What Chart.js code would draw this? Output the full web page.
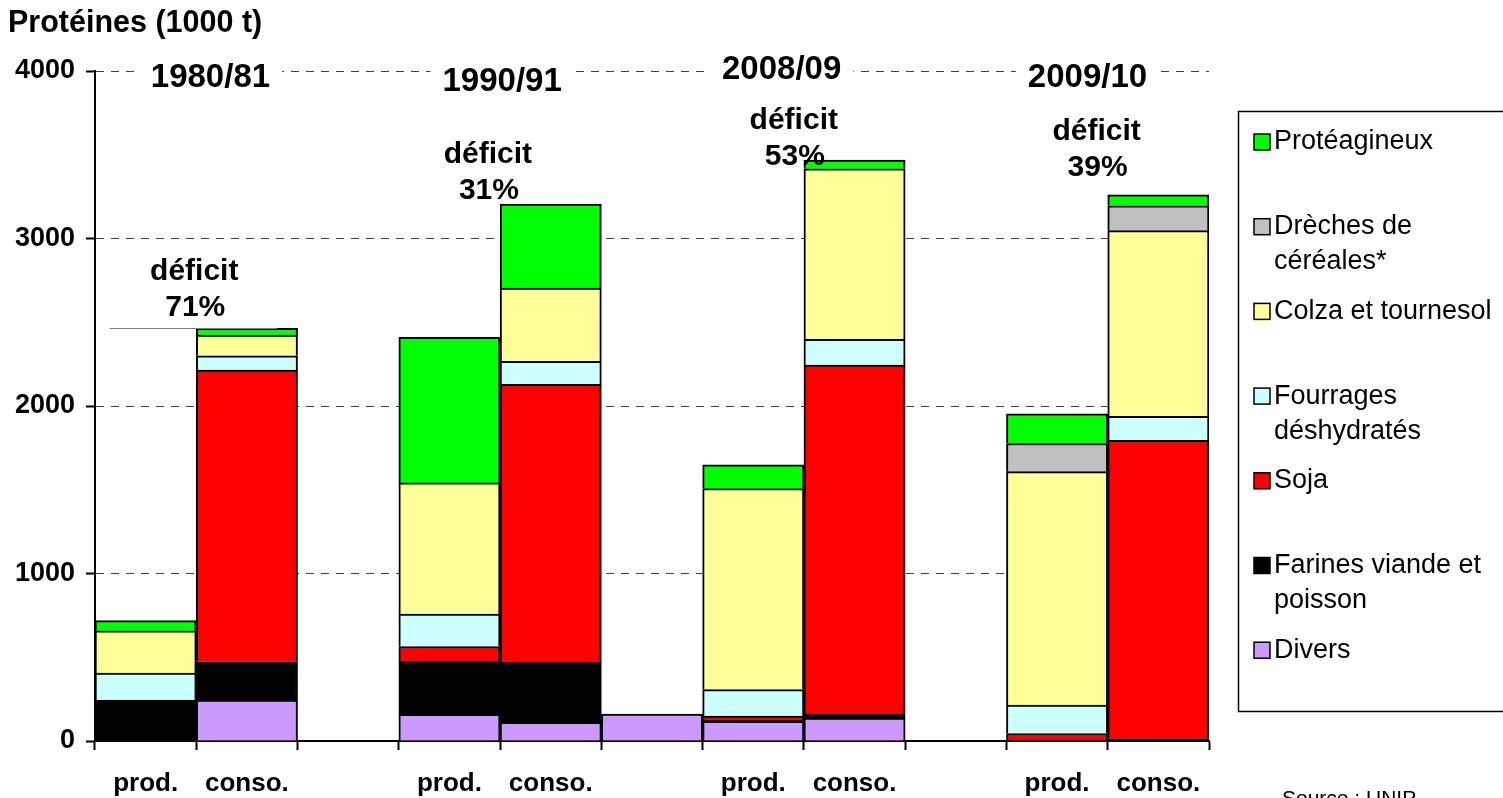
<!DOCTYPE html>
<html lang="fr">
<head>
<meta charset="utf-8">
<title>Protéines (1000 t)</title>
<script src="https://cdn.jsdelivr.net/npm/chart.js@4"></script>
<style>
  html, body { margin: 0; padding: 0; background: #fff; }
  #wrap { width: 1503px; height: 798px; }
</style>
</head>
<body>
<div id="wrap"><canvas id="chart" width="1503" height="798"></canvas></div>
<script>
// categories: prod./conso. per campaign, with an empty slot between campaigns
const categories = ['prod.', 'conso.', '', 'prod.', 'conso.', '', 'prod.', 'conso.', '', 'prod.', 'conso.'];
const periods = ['1980/81', '1990/91', '2008/09', '2009/10'];
const deficits = ['71%', '31%', '53%', '39%'];

// protein volumes, 1000 t
const divers       = [0, 245, null, 159, 111, 161, 118, 137, null, 0, 0];
const farines      = [245, 228, null, 316, 358, null, 6, 24, null, 5, 15];
const soja         = [0, 1742, null, 89, 1660, null, 25, 2083, null, 40, 1780];
const fourrages    = [160, 85, null, 194, 137, null, 158, 154, null, 170, 144];
const colza        = [253, 124, null, 783, 438, null, 1200, 1018, null, 1393, 1108];
const dreches      = [0, 0, null, 0, 0, null, 0, 0, null, 168, 148];
const proteagineux = [61, 40, null, 869, 502, null, 142, 52, null, 177, 66];

const yTicks = [0, 1000, 2000, 3000, 4000];

const FONT = '"Liberation Sans", Arial, sans-serif';

// stacked bottom -> top
const series = [
  { label: 'Divers', data: divers, color: '#CC99FF', legend: ['Divers'] },
  { label: 'Farines viande et poisson', data: farines, color: '#000000', legend: ['Farines viande et', 'poisson'] },
  { label: 'Soja', data: soja, color: '#FF0000', legend: ['Soja'] },
  { label: 'Fourrages déshydratés', data: fourrages, color: '#CCFFFF', legend: ['Fourrages', 'déshydratés'] },
  { label: 'Colza et tournesol', data: colza, color: '#FFFF99', legend: ['Colza et tournesol'] },
  { label: 'Drèches de céréales*', data: dreches, color: '#C0C0C0', legend: ['Drèches de', 'céréales*'] },
  { label: 'Protéagineux', data: proteagineux, color: '#00FF00', legend: ['Protéagineux'] }
];

// where the campaign titles and deficit notes sit (category index, value)
const notes = {
  periodAt: [0.64, 3.52, 6.28, 9.30],
  periodY: [3960, 3935, 4005, 3960],
  deficitAt: [0.48, 3.38, 6.40, 9.39],
  deficitY: [2800, 3500, 3705, 3640]
};

const decorations = {
  id: 'decorations',
  afterDraw(chart) {
    const { ctx } = chart;
    const x = chart.scales.x, y = chart.scales.y;
    ctx.save();
    ctx.fillStyle = '#000';

    // axis title
    ctx.font = `bold 30.5px ${FONT}`;
    ctx.textAlign = 'left';
    ctx.textBaseline = 'middle';
    ctx.fillText('Protéines (1000 t)', 8, 24);

    // campaign titles on a white patch over the top grid line
    ctx.font = `bold 33px ${FONT}`;
    ctx.textAlign = 'center';
    periods.forEach((p, i) => {
      const px = x.getPixelForValue(notes.periodAt[i]);
      const py = y.getPixelForValue(notes.periodY[i]);
      const w = ctx.measureText(p).width;
      ctx.fillStyle = '#fff';
      ctx.fillRect(px - w / 2 - 12, py - 16, w + 24, 32);
      ctx.fillStyle = '#000';
      ctx.fillText(p, px, py);
    });

    // thin reference line at the 1980/81 consumption total
    const total80 = series.reduce((s, d) => s + (d.data[1] || 0), 0);
    const ly = Math.round(y.getPixelForValue(total80)) + 0.5;
    ctx.strokeStyle = '#808080';
    ctx.lineWidth = 1;
    ctx.beginPath();
    ctx.moveTo(x.getPixelForValue(0) - 36, ly);
    ctx.lineTo(x.getPixelForValue(1) + 30, ly);
    ctx.stroke();

    // deficit notes
    ctx.font = `bold 30px ${FONT}`;
    ctx.fillStyle = '#000';
    deficits.forEach((d, i) => {
      const px = x.getPixelForValue(notes.deficitAt[i]);
      const py = y.getPixelForValue(notes.deficitY[i]);
      ctx.fillText('déficit', px, py);
      ctx.fillText(d, px + 1, py + 36);
    });

    // legend box, top of the stack first
    ctx.strokeStyle = '#000';
    ctx.lineWidth = 1.5;
    ctx.strokeRect(1238.5, 111.5, 300, 600);
    ctx.font = `27px ${FONT}`;
    ctx.textAlign = 'left';
    series.slice().reverse().forEach((s, i) => {
      const cy = 142 + i * 84.7;
      ctx.fillStyle = s.color;
      ctx.fillRect(1254, cy - 8, 16, 16);
      ctx.strokeRect(1254, cy - 8, 16, 16);
      ctx.fillStyle = '#000';
      s.legend.forEach((line, k) => ctx.fillText(line, 1274, cy + k * 35));
    });

    // source
    ctx.font = `21px ${FONT}`;
    ctx.textBaseline = 'alphabetic';
    ctx.fillText('Source : UNIP', 1282, 805);
    ctx.restore();
  }
};

new Chart(document.getElementById('chart'), {
  type: 'bar',
  data: {
    labels: categories,
    datasets: series.map(s => ({
      label: s.label,
      data: s.data,
      backgroundColor: s.color,
      borderColor: '#000',
      borderWidth: 2,
      borderSkipped: 'start',
      barPercentage: 1,
      categoryPercentage: 1
    }))
  },
  options: {
    responsive: false,
    animation: false,
    layout: { padding: { top: 71, right: 294, left: 0, bottom: 0 } },
    plugins: { legend: { display: false }, tooltip: { enabled: false } },
    scales: {
      x: {
        stacked: true,
        offset: true,
        grid: { offset: true, drawOnChartArea: false, tickLength: 9, tickColor: '#000', tickWidth: 2 },
        border: { color: '#000', width: 2 },
        ticks: {
          color: '#000', autoSkip: false, maxRotation: 0, padding: 18,
          font: { family: FONT, size: 26, weight: 'bold' }
        },
        afterFit: s => { s.height = 57; }
      },
      y: {
        stacked: true,
        min: 0,
        max: 4000,
        afterBuildTicks: s => { s.ticks = yTicks.map(v => ({ value: v })); },
        grid: {
          color: c => (c.tick && c.tick.value === 0 ? 'rgba(0,0,0,0)' : '#404040'),
          lineWidth: 1, tickColor: '#000', tickWidth: 2, tickLength: 9
        },
        border: { color: '#000', width: 2, dash: [8, 7] },
        ticks: {
          color: '#000', padding: 11,
          callback: v => String(v),
          font: { family: FONT, size: 27, weight: 'bold' }
        },
        afterFit: s => { s.width = 95; }
      }
    }
  },
  plugins: [decorations]
});
</script>
</body>
</html>
